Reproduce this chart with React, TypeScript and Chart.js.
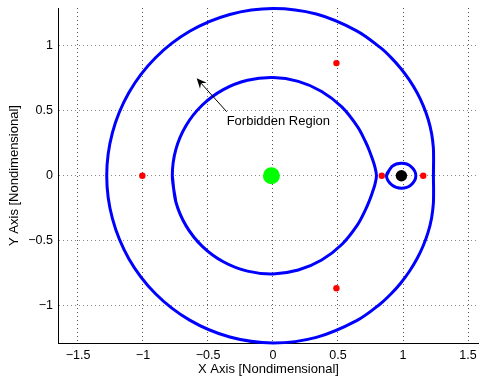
import React, { useEffect, useRef } from 'react';
import { Chart, registerables } from 'chart.js';

Chart.register(...registerables);

// Zero-velocity curve: outer boundary (closed loop, last points repeat the start)
const outerX = [1.234, 1.2353, 1.2333, 1.2196, 1.1934, 1.1555, 1.1075, 1.0497, 0.9833, 0.9086, 0.8266, 0.6435, 0.3332, 0, -0.3324, -0.641, -0.9057, -1.108, -1.235, -1.279, -1.235, -1.108, -0.9057, -0.641, -0.3324, 0, 0.3332, 0.6435, 0.8266, 0.9086, 0.9833, 1.0497, 1.1075, 1.1555, 1.1934, 1.2196, 1.2333, 1.2353, 1.234, 1.2353];
const outerY = [0, 0.1081, 0.2175, 0.3268, 0.4344, 0.5388, 0.6394, 0.7351, 0.8251, 0.9086, 0.985, 1.1146, 1.2433, 1.286, 1.2404, 1.1107, 0.9057, 0.64, 0.331, 0, -0.331, -0.64, -0.9057, -1.1107, -1.2404, -1.286, -1.2433, -1.1146, -0.985, -0.9086, -0.8251, -0.7351, -0.6394, -0.5388, -0.4344, -0.3268, -0.2175, -0.1081, 0, 0.1081];

// Zero-velocity curve around the Earth
const innerX = [-0.7745, -0.7476, -0.6684, -0.5435, -0.3823, -0.1967, 0, 0.1945, 0.3743, 0.5291, 0.651, 0.7126, 0.739, 0.7626, 0.7837, 0.7959, 0.7837, 0.7626, 0.739, 0.7126, 0.651, 0.5291, 0.3743, 0.1945, 0, -0.1967, -0.3823, -0.5435, -0.6684, -0.7476, -0.7745, -0.7476];
const innerY = [0, -0.2003, -0.3859, -0.5435, -0.6622, -0.7341, -0.7555, -0.7257, -0.6483, -0.5291, -0.3759, -0.2594, -0.198, -0.1345, -0.0686, 0, 0.0686, 0.1345, 0.198, 0.2594, 0.3759, 0.5291, 0.6483, 0.7257, 0.7555, 0.7341, 0.6622, 0.5435, 0.3859, 0.2003, 0, -0.2003];

// Zero-velocity curve around the Moon
const moonX = [0.873, 0.9158, 0.98785, 1.06, 1.0988, 1.06, 0.98785, 0.9158, 0.873, 0.9158];
const moonY = [0, 0.0721, 0.0959, 0.0722, 0, -0.0722, -0.0959, -0.0721, 0, 0.0721];

// Libration points L1..L5
const lagrangeX = [0.8369, 1.1557, -1.0051, 0.4879, 0.4879];
const lagrangeY = [0, 0, 0, 0.866, -0.866];

// Primaries
const earthX = [-0.01215];
const earthY = [0];
const moonBodyX = [0.98785];
const moonBodyY = [0];

// Axes
const xTickValues = [-1.5, -1, -0.5, 0, 0.5, 1, 1.5];
const xTickLabels = ['\u22121.5', '\u22121', '\u22120.5', '0', '0.5', '1', '1.5'];
const yTickValues = [-1, -0.5, 0, 0.5, 1];
const yTickLabels = ['\u22121', '\u22120.5', '0', '0.5', '1'];
const xTitle = 'X Axis [Nondimensional]';
const yTitle = 'Y Axis [Nondimensional]';
const annotationText = 'Forbidden Region';

const FONT = '"Liberation Sans", Arial, Helvetica, sans-serif';

const zip = (xs: number[], ys: number[]) => xs.map((x, i) => ({ x, y: ys[i] }));

export default function App() {
  const ref = useRef<HTMLCanvasElement>(null);

  useEffect(() => {
    const canvas = ref.current;
    if (!canvas) return;

    const annotation = {
      id: 'forbiddenAnnotation',
      afterDatasetsDraw(chart: any) {
        const { ctx } = chart;
        const xs = chart.scales.x;
        const ys = chart.scales.y;
        ctx.save();
        ctx.font = `13px ${FONT}`;
        ctx.fillStyle = '#000';
        ctx.textAlign = 'center';
        ctx.textBaseline = 'middle';
        ctx.fillText(annotationText, xs.getPixelForValue(0.041), ys.getPixelForValue(0.421));

        const x0 = xs.getPixelForValue(-0.356);
        const y0 = ys.getPixelForValue(0.492);
        const x1 = xs.getPixelForValue(-0.587);
        const y1 = ys.getPixelForValue(0.749);
        const ang = Math.atan2(y1 - y0, x1 - x0);
        const hl = 10;
        const hw = 4.5;
        const c = Math.cos(ang);
        const s = Math.sin(ang);
        const bx = x1 - hl * c;
        const by = y1 - hl * s;
        const nx = x1 - hl * 0.65 * c;
        const ny = y1 - hl * 0.65 * s;
        ctx.strokeStyle = '#000';
        ctx.lineWidth = 1;
        ctx.beginPath();
        ctx.moveTo(x0, y0);
        ctx.lineTo(nx, ny);
        ctx.stroke();
        ctx.beginPath();
        ctx.moveTo(x1, y1);
        ctx.lineTo(bx + hw * s, by - hw * c);
        ctx.lineTo(nx, ny);
        ctx.lineTo(bx - hw * s, by + hw * c);
        ctx.closePath();
        ctx.fill();
        ctx.restore();
      },
    };

    const curve = (data: any[]) => ({
      data,
      showLine: true,
      borderColor: '#0000ff',
      borderWidth: 3,
      pointRadius: 0,
      tension: 0.33,
      fill: false,
      clip: false as any,
    });

    const marker = (data: any[], color: string, r: number) => ({
      data,
      showLine: false,
      pointRadius: r,
      pointBackgroundColor: color,
      pointBorderWidth: 0,
      borderColor: color,
      clip: false as any,
    });

    const chart = new Chart(canvas, {
      type: 'scatter',
      data: {
        datasets: [
          marker(zip(earthX, earthY), '#00ff00', 8.5),
          marker(zip(moonBodyX, moonBodyY), '#000000', 5.7),
          marker(zip(lagrangeX, lagrangeY), '#ff0000', 3.2),
          curve(zip(outerX, outerY)),
          curve(zip(innerX, innerY)),
          curve(zip(moonX, moonY)),
        ] as any,
      },
      options: {
        animation: false,
        responsive: false,
        devicePixelRatio: 1,
        events: [],
        layout: { autoPadding: false, padding: { top: 8, left: 0, right: 0, bottom: 0 } },
        elements: { line: { capBezierPoints: false } },
        plugins: {
          legend: { display: false },
          tooltip: { enabled: false },
          title: { display: false },
        },
        scales: {
          x: {
            type: 'linear',
            min: -1.6538,
            max: 1.5846,
            afterBuildTicks: (s: any) => {
              s.ticks = xTickValues.map((v) => ({ value: v }));
            },
            afterFit: (s: any) => {
              s.height = 40;
              s.paddingLeft = 0;
              s.paddingRight = 0;
            },
            ticks: {
              autoSkip: false,
              maxRotation: 0,
              padding: 5,
              color: '#000',
              font: { family: FONT, size: 12.5 },
              callback: (_v: any, i: number) => xTickLabels[i],
            },
            grid: { drawTicks: false, color: '#555', lineWidth: 1 },
            border: { display: true, color: '#000', width: 1, dash: [1, 3] },
            title: {
              display: true,
              text: xTitle,
              color: '#000',
              font: { family: FONT, size: 13 },
              padding: { top: 0, bottom: 6 },
            },
          },
          y: {
            type: 'linear',
            min: -1.2869,
            max: 1.29,
            afterBuildTicks: (s: any) => {
              s.ticks = yTickValues.map((v) => ({ value: v }));
            },
            afterFit: (s: any) => {
              s.width = 58;
              s.paddingTop = 0;
              s.paddingBottom = 0;
            },
            ticks: {
              autoSkip: false,
              padding: 5,
              color: '#000',
              font: { family: FONT, size: 12.5 },
              callback: (_v: any, i: number) => yTickLabels[i],
            },
            grid: { drawTicks: false, color: '#888', lineWidth: 1 },
            border: { display: true, color: '#000', width: 1, dash: [1, 3] },
            title: {
              display: true,
              text: yTitle,
              color: '#000',
              font: { family: FONT, size: 13 },
              padding: { top: 7, bottom: 0 },
            },
          },
        },
      } as any,
      plugins: [annotation],
    });

    return () => chart.destroy();
  }, []);

  return (
    <div style={{ position: 'absolute', left: 0, top: 0, width: 479, height: 383, background: '#fff' }}>
      <canvas ref={ref} width={479} height={383} style={{ width: 479, height: 383, display: 'block' }} />
    </div>
  );
}
